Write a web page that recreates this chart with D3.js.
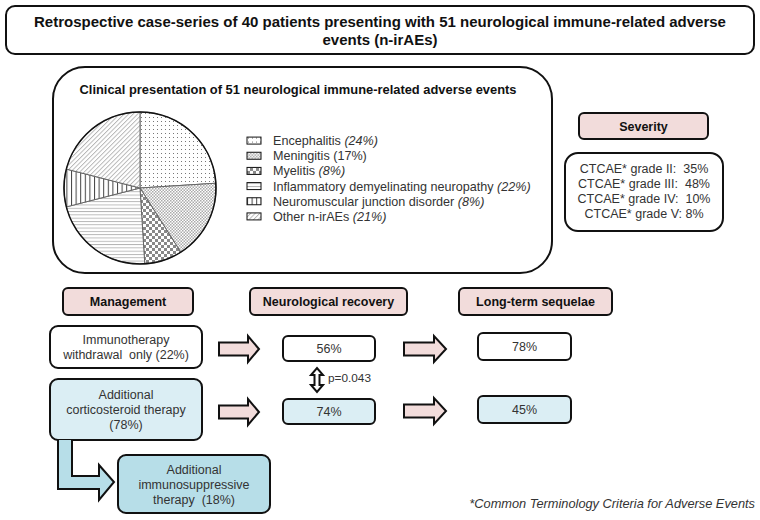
<!DOCTYPE html>
<html>
<head>
<meta charset="utf-8">
<script src="https://cdn.jsdelivr.net/npm/d3@7"></script>
<style>
  body { margin: 0; background: #fff; }
  svg { display: block; font-family: "Liberation Sans", Arial, sans-serif; }
</style>
</head>
<body>
<svg width="760" height="520"></svg>
<script>
// pie data
var subtypes = ["Encephalitis", "Meningitis", "Myelitis", "Inflammatory demyelinating neuropathy",
                "Neuromuscular junction disorder", "Other n-irAEs"];
var subtypePct = [24, 17, 8, 22, 8, 21];
var pctItalic = [true, false, true, true, true, true];
var patternIds = ["pDots", "pDense", "pCheck", "pHoriz", "pVert", "pDiag"];

// severity
var grades = ["II", "III", "IV", "V"];
var gradePct = [35, 48, 10, 8];

// flow
var headers = ["Management", "Neurological recovery", "Long-term sequelae"];
var recovery = [56, 74];
var sequelae = [78, 45];
var pValue = "0.043";

var svg = d3.select("svg");
var ink = "#111";
var textCol = "#333";
var pink = "#f2dcdb", lightBlue = "#dbeef4", midBlue = "#b7dee8";
var nb = "\u00a0";

// patterns
var defs = svg.append("defs");
function pattern(id, w, h) {
    return defs.append("pattern").attr("id", id).attr("patternUnits", "userSpaceOnUse")
        .attr("width", w).attr("height", h);
}
var p;
p = pattern("pDots", 4, 4);
p.append("rect").attr("width", 4).attr("height", 4).attr("fill", "#fff");
p.append("rect").attr("x", 1).attr("y", 1).attr("width", 1).attr("height", 1).attr("fill", "#777");
p = pattern("pDense", 3, 3);
p.append("rect").attr("width", 3).attr("height", 3).attr("fill", "#fff");
p.append("rect").attr("width", 1.5).attr("height", 1.5).attr("fill", "#aaa");
p.append("rect").attr("x", 1.5).attr("y", 1.5).attr("width", 1.5).attr("height", 1.5).attr("fill", "#aaa");
p = pattern("pCheck", 6, 6);
p.append("rect").attr("width", 6).attr("height", 6).attr("fill", "#fff");
p.append("rect").attr("width", 3).attr("height", 3).attr("fill", "#888");
p.append("rect").attr("x", 3).attr("y", 3).attr("width", 3).attr("height", 3).attr("fill", "#888");
p = pattern("pHoriz", 3.3, 3.3);
p.append("rect").attr("width", 3.3).attr("height", 3.3).attr("fill", "#fff");
p.append("line").attr("x1", 0).attr("x2", 3.3).attr("y1", 0.5).attr("y2", 0.5).attr("stroke", "#aaa").attr("stroke-width", 0.8);
p = pattern("pVert", 4.6, 4.6);
p.append("rect").attr("width", 4.6).attr("height", 4.6).attr("fill", "#fff");
p.append("line").attr("x1", 0.5).attr("x2", 0.5).attr("y1", 0).attr("y2", 4.6).attr("stroke", "#444").attr("stroke-width", 1);
p = pattern("pDiag", 3.2, 3.2).attr("patternTransform", "rotate(45)");
p.append("rect").attr("width", 3.2).attr("height", 3.2).attr("fill", "#fff");
p.append("line").attr("x1", 0.5).attr("x2", 0.5).attr("y1", 0).attr("y2", 3.2).attr("stroke", "#aaa").attr("stroke-width", 0.8);

function box(x, y, w, h, r, fill, sw) {
    return svg.append("rect").attr("x", x).attr("y", y).attr("width", w).attr("height", h)
        .attr("rx", r).attr("fill", fill).attr("stroke", ink).attr("stroke-width", sw || 2);
}
function label(x, y, lines, size, opts) {
    opts = opts || {};
    var t = svg.append("text").attr("x", x).attr("y", y)
        .attr("text-anchor", opts.anchor || "middle")
        .attr("font-size", size)
        .attr("font-weight", opts.bold ? "bold" : null)
        .attr("font-style", opts.italic ? "italic" : null)
        .attr("fill", opts.fill || textCol);
    lines.forEach(function(l, i) {
        t.append("tspan").attr("x", x).attr("dy", i ? (opts.lh || 15) : 0).text(l);
    });
    return t;
}

// title
box(6, 6, 748, 48, 9, "#fff", 2);
label(380, 27, ["Retrospective case-series of 40 patients presenting with 51 neurological immune-related adverse",
                "events (n-irAEs)"], 15, {bold: true, fill: "#111", lh: 18});

// clinical presentation panel
box(53, 67, 499, 206, 32, "#fff", 2);
label(298, 94, ["Clinical presentation of 51 neurological immune-related adverse events"], 12.9, {bold: true, fill: "#111"});

var pie = d3.pie().sort(null).value(function(d) { return d; });
var arc = d3.arc().innerRadius(0).outerRadius(76);
var pieG = svg.append("g").attr("transform", "translate(140,188)");
pieG.selectAll("path").data(pie(subtypePct)).join("path")
    .attr("d", arc)
    .attr("fill", function(d, i) { return "url(#" + patternIds[i] + ")"; })
    .attr("stroke", "#666").attr("stroke-width", 1);
pieG.append("circle").attr("r", 76).attr("fill", "none").attr("stroke", ink).attr("stroke-width", 1.6);

// legend
var ly = d3.scaleBand().domain(subtypes).range([133, 224]);
var leg = svg.append("g").selectAll("g").data(subtypes).join("g")
    .attr("transform", function(d) { return "translate(247," + (ly(d) + ly.bandwidth() / 2) + ")"; });
leg.append("rect").attr("x", 0).attr("y", -3.5).attr("width", 14).attr("height", 7)
    .attr("fill", function(d, i) { return "url(#" + patternIds[i] + ")"; })
    .attr("stroke", ink).attr("stroke-width", 1);
var lt = leg.append("text").attr("x", 26).attr("y", 4.5).attr("font-size", 12.6).attr("fill", textCol);
lt.append("tspan").text(function(d) { return d + " "; });
lt.append("tspan").attr("font-style", function(d, i) { return pctItalic[i] ? "italic" : null; })
    .text(function(d, i) { return "(" + subtypePct[i] + "%)"; });

// severity
box(579, 113, 129, 26, 5, pink, 2);
label(643.5, 131, ["Severity"], 12.5, {bold: true, fill: "#111"});
box(565, 153, 158, 78, 13, "#fff", 2);
var sy = d3.scaleBand().domain(grades).range([161, 221]);
svg.append("g").selectAll("text").data(grades).join("text")
    .attr("x", 644).attr("y", function(d) { return sy(d) + sy.bandwidth() / 2 + 4.5; })
    .attr("text-anchor", "middle").attr("font-size", 12.5).attr("fill", textCol)
    .text(function(d, i) { return "CTCAE* grade " + d + ":" + (i < 3 ? nb + " " : " ") + gradePct[i] + "%"; });

// column headers
var hx = [[63, 130], [250, 157], [459, 153]];
headers.forEach(function(h, i) {
    box(hx[i][0], 288, hx[i][1], 27, 5, pink, 2);
    label(hx[i][0] + hx[i][1] / 2, 306, [h], 12.5, {bold: true, fill: "#111"});
});

// management boxes
box(50, 326, 152, 42, 8, "#fff", 2);
label(126, 344, ["Immunotherapy", "withdrawal" + nb + " only (22%)"], 12.5, {lh: 15});
box(50, 379, 152, 61, 8, lightBlue, 2);
label(126, 399, ["Additional", "corticosteroid therapy", "(78%)"], 12.5, {lh: 15});
box(118, 455, 152, 58, 8, midBlue, 2);
label(194, 474, ["Additional", "immunosuppressive", "therapy" + nb + " (18%)"], 12.5, {lh: 15});

// outcome boxes
var rowY = [336, 399];
var rowFill = ["#fff", lightBlue];
recovery.forEach(function(v, i) {
    box(283, rowY[i], 92, 25, 5, rowFill[i], 2);
    label(329, rowY[i] + 17, [v + "%"], 12.5);
});
sequelae.forEach(function(v, i) {
    box(478, rowY[i] - 3, 93, 27, 5, rowFill[i], 2);
    label(524.5, rowY[i] + 15, [v + "%"], 12.5);
});

// block arrows
function hArrow(x0, x1, cy, bodyH, headH, headW, fill) {
    var pts = [[x0, cy - bodyH / 2], [x1 - headW, cy - bodyH / 2], [x1 - headW, cy - headH / 2], [x1, cy],
               [x1 - headW, cy + headH / 2], [x1 - headW, cy + bodyH / 2], [x0, cy + bodyH / 2]];
    svg.append("path").attr("d", d3.line()(pts) + "Z").attr("fill", fill)
        .attr("stroke", ink).attr("stroke-width", 2).attr("stroke-linejoin", "miter");
}
hArrow(219, 259, 349, 13, 26, 11, pink);
hArrow(219, 259, 412, 13, 26, 11, pink);
hArrow(404, 446, 349, 13, 26, 12, pink);
hArrow(404, 446, 411, 13, 26, 12, pink);

// double arrow with p-value
var dx = 317, dy0 = 368, dy1 = 392;
var dbl = [[dx - 2.5, dy0 + 7], [dx - 6, dy0 + 7], [dx, dy0], [dx + 6, dy0 + 7], [dx + 2.5, dy0 + 7],
           [dx + 2.5, dy1 - 7], [dx + 6, dy1 - 7], [dx, dy1], [dx - 6, dy1 - 7], [dx - 2.5, dy1 - 7]];
svg.append("path").attr("d", d3.line()(dbl) + "Z").attr("fill", "#fff")
    .attr("stroke", ink).attr("stroke-width", 2);
label(328, 382, ["p=" + pValue], 11.8, {anchor: "start"});

// bent arrow to immunosuppressive therapy
var bent = [[58, 440], [58, 489], [99, 489], [99, 500], [114, 482], [99, 465], [99, 476], [72, 476], [72, 440]];
svg.append("path").attr("d", d3.line()(bent)).attr("fill", midBlue)
    .attr("stroke", ink).attr("stroke-width", 2);

// footnote
label(755, 508, ["*Common Terminology Criteria for Adverse Events"], 12.8, {anchor: "end", italic: true});
</script>
</body>
</html>
